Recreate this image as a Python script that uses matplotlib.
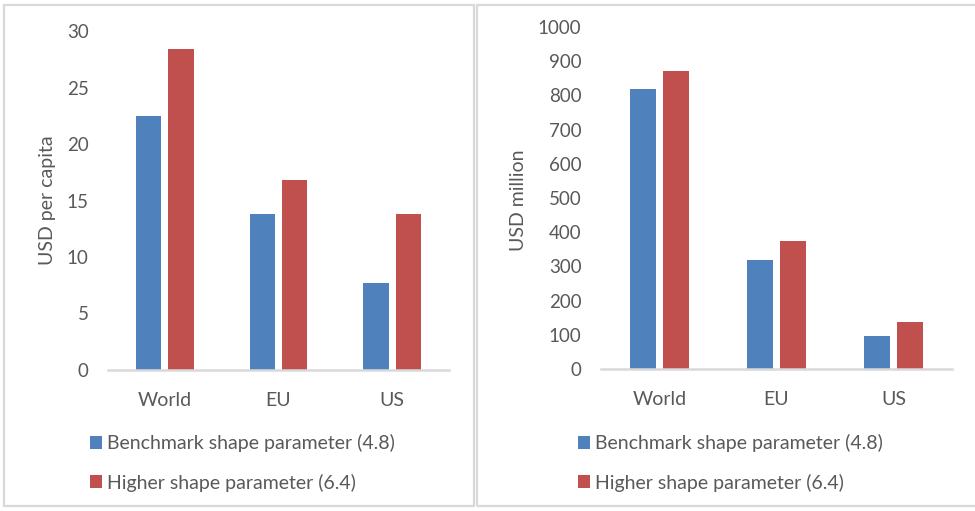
import matplotlib
matplotlib.use("Agg")
import matplotlib.pyplot as plt
from matplotlib.patches import Rectangle
import numpy as np

plt.rcParams['font.family'] = ['Lato', 'DejaVu Sans']

categories = ["World", "EU", "US"]
series_names = ["Benchmark shape parameter (4.8)", "Higher shape parameter (6.4)"]

per_capita_benchmark = [22.5, 13.8, 7.7]
per_capita_higher = [28.4, 16.8, 13.8]

million_benchmark = [818, 319, 97]
million_higher = [872, 374, 138]

per_capita_ticks = [0, 5, 10, 15, 20, 25, 30]
million_ticks = [0, 100, 200, 300, 400, 500, 600, 700, 800, 900, 1000]

BLUE = "#4F81BD"
RED = "#C0504D"
TEXT = "#595959"
GRID = "#D9D9D9"

W, H = 975, 511
fig = plt.figure(figsize=(W / 100, H / 100), dpi=100)


def px_rect(x0, y0, x1, y1):
    """Figure-fraction rect from pixel coords (top-left origin)."""
    return [x0 / W, 1 - y1 / H, (x1 - x0) / W, (y1 - y0) / H]


# panel frames
for (x0, x1) in [(4, 474), (477, 980)]:
    fig.patches.append(Rectangle((x0 / W, 5 / H), (x1 - x0) / W, 1 - 10 / H,
                                 transform=fig.transFigure, fill=False,
                                 edgecolor=GRID, linewidth=1.6))

panels = [
    dict(rect=px_rect(108, 31, 449, 370), a=per_capita_benchmark, b=per_capita_higher,
         ticks=per_capita_ticks, ylim=30, ylabel="USD per capita", ylab_x=47,
         leg_x=90),
    dict(rect=px_rect(601, 27, 952, 369), a=million_benchmark, b=million_higher,
         ticks=million_ticks, ylim=1000, ylabel="USD million", ylab_x=519,
         leg_x=578),
]

x = np.arange(len(categories))
bw = 0.225
off = bw / 2 + 0.03

for p in panels:
    ax = fig.add_axes(p["rect"])
    ba = ax.bar(x - off, p["a"], width=bw, color=BLUE, label=series_names[0], zorder=2)
    bb = ax.bar(x + off, p["b"], width=bw, color=RED, label=series_names[1], zorder=2)
    ax.set_xlim(-0.5, len(categories) - 0.5)
    ax.set_ylim(0, p["ylim"])
    ax.set_yticks(p["ticks"])
    ax.set_xticks(x)
    ax.set_xticklabels(categories)
    for s in ["top", "right", "left"]:
        ax.spines[s].set_visible(False)
    ax.spines["bottom"].set_color(GRID)
    ax.spines["bottom"].set_linewidth(1.8)
    ax.spines["bottom"].set_zorder(3)
    ax.tick_params(axis="y", length=0, pad=14, labelsize=13.5, labelcolor=TEXT)
    ax.tick_params(axis="x", length=0, pad=16, labelsize=14, labelcolor=TEXT)
    fig.text(p["ylab_x"] / W, 1 - 200 / H, p["ylabel"], rotation=90,
             ha="center", va="center", fontsize=14, color=TEXT)
    leg = ax.legend(handles=[ba, bb], loc="upper left",
                    bbox_to_anchor=(p["leg_x"] / W, 1 - 434 / H),
                    bbox_transform=fig.transFigure, frameon=False,
                    fontsize=14, handlelength=0.62, handleheight=0.62,
                    handletextpad=0.25, labelspacing=1.1, borderpad=0,
                    borderaxespad=0)
    for t in leg.get_texts():
        t.set_color(TEXT)

fig.savefig("out.png", dpi=100)
